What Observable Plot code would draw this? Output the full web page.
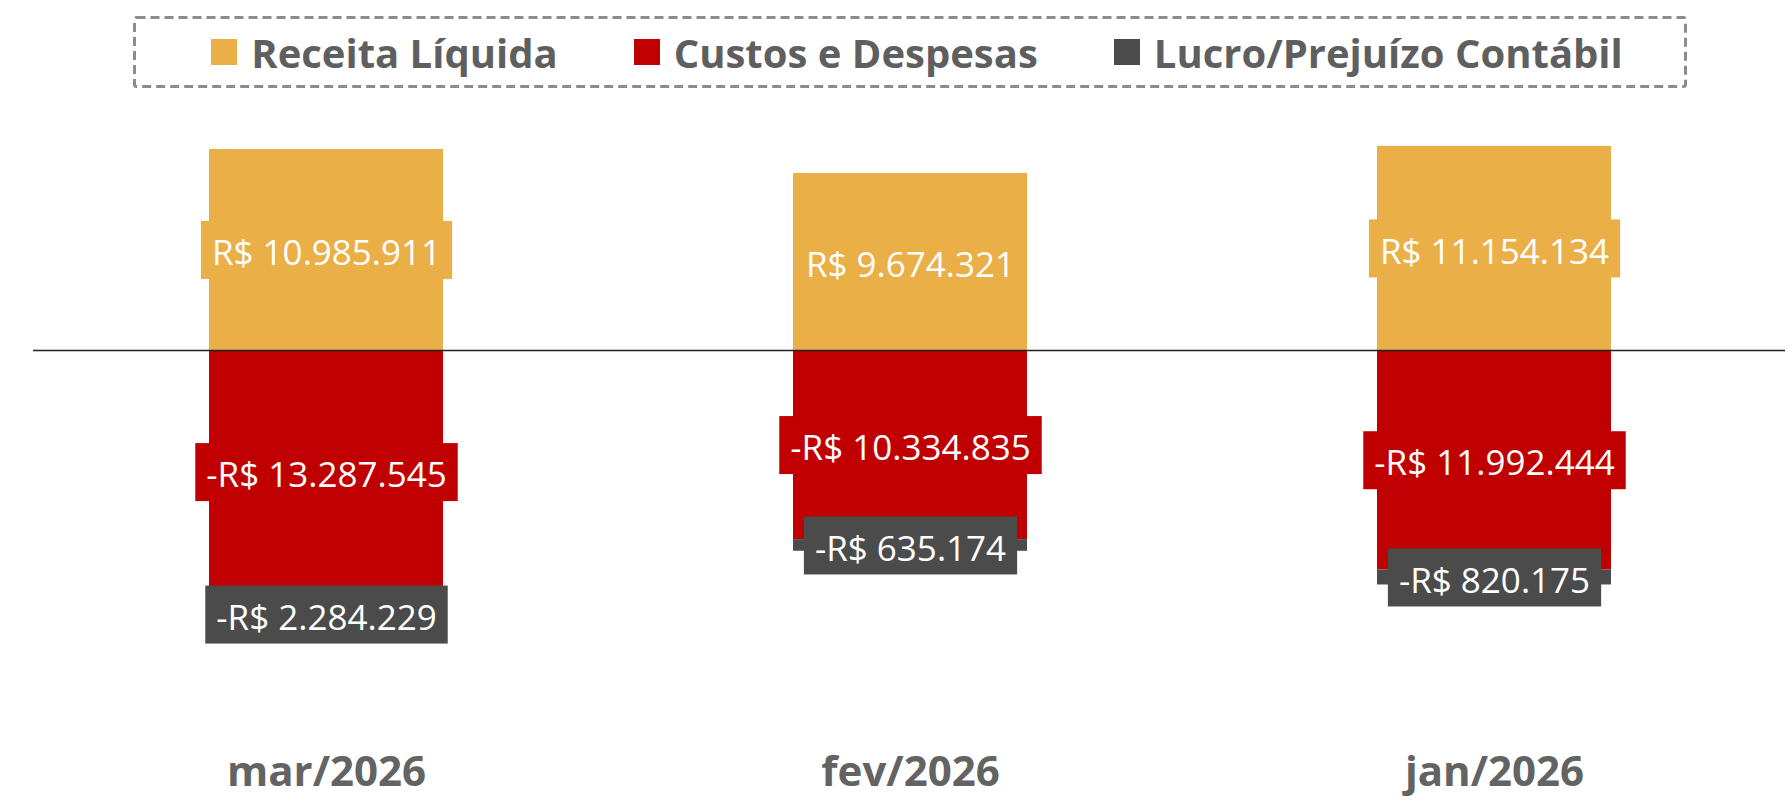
<!DOCTYPE html>
<html>
<head>
<meta charset="utf-8">
<script src="https://cdn.jsdelivr.net/npm/d3@7"></script>
<script src="https://cdn.jsdelivr.net/npm/@observablehq/plot@0.6"></script>
<style>
  body { margin: 0; background: #fff; font-family: "Open Sans", sans-serif; }
  #legend-wrap { position: relative; width: 1790px; height: 100px; }
  #legend {
    position: absolute; left: 133px; top: 16px; width: 1554px; height: 72px;
    box-sizing: border-box; padding-left: 14px;
    display: flex; align-items: center; justify-content: center; gap: 76px;
  }
  #legend svg.frame { position: absolute; left: 0; top: 0; }
  .item { position: relative; display: flex; align-items: center; gap: 14px; font-weight: 700; font-size: 40px; color: #5f5f5f; white-space: nowrap; }
  .sw { width: 26px; height: 26px; display: inline-block; }
</style>
</head>
<body>
<div id="legend-wrap"><div id="legend">
  <svg class="frame" width="1554" height="72"><rect x="1.5" y="1.5" width="1551" height="69" rx="2" fill="none" stroke="#8c8c8c" stroke-width="3" stroke-dasharray="9 5"></rect></svg>
</div></div>
<div id="chart"></div>
<script>
const months = ["mar/2026", "fev/2026", "jan/2026"];
const seriesNames = ["Receita Líquida", "Custos e Despesas", "Lucro/Prejuízo Contábil"];
const receita = [10985911, 9674321, 11154134];
const custos = [-13287545, -10334835, -11992444];
const lucro = [-2284229, -635174, -820175];
const colors = ["#EAAF47", "#C00000", "#4B4B4B"];

const seriesValues = [receita, custos, lucro];
const rows = [];
months.forEach((m, i) => {
  seriesNames.forEach((s, j) => rows.push({month: m, series: s, value: seriesValues[j][i]}));
});

const locale = d3.formatLocale({decimal: ",", thousands: ".", grouping: [3], currency: ["R$ ", ""], minus: "-"});
const fmt = locale.format("$,.0f");

// legend
const legend = document.getElementById("legend");
seriesNames.forEach((s, j) => {
  const it = document.createElement("div");
  it.className = "item";
  it.innerHTML = `<span class="sw" style="background:${colors[j]}"></span><span>${s}</span>`;
  legend.appendChild(it);
});

const zeroY = 250, pxPerM = 18.3;
const textShift = 4;
const chart = Plot.plot({
  width: 1790,
  height: 700,
  marginLeft: 33,
  marginRight: 5,
  marginTop: 0,
  marginBottom: 44,
  x: {domain: months, range: [208, 1611], paddingInner: 0.6, paddingOuter: 0, label: null},
  y: {domain: [-20e6, 12e6], range: [zeroY + 20 * pxPerM, zeroY - 12 * pxPerM], axis: null},
  color: {domain: seriesNames, range: colors},
  marks: [
    Plot.barY(rows, {x: "month", y: "value", fill: "series", z: "series"}),
    Plot.ruleY([0], {stroke: "#222", strokeWidth: 1.6}),
    Plot.text(rows, Plot.stackY({
      x: "month", y: "value", z: "series", fill: "series",
      text: d => fmt(d.value), fontSize: 35, fontFamily: "Open Sans", dy: textShift
    })),
    Plot.axisX({tickSize: 0, tickPadding: 0, fontSize: 42, fontWeight: "bold", fill: "#636363", label: null, fontFamily: "Open Sans"})
  ]
});
document.getElementById("chart").appendChild(chart);

// label background boxes
chart.querySelectorAll('g[aria-label="text"] text').forEach(t => {
  const b = t.getBBox();
  const fill = t.getAttribute("fill");
  const r = document.createElementNS("http://www.w3.org/2000/svg", "rect");
  r.setAttribute("x", b.x - 11);
  r.setAttribute("width", b.width + 22);
  r.setAttribute("y", -29 - textShift);
  r.setAttribute("height", 58);
  r.setAttribute("fill", fill);
  const tr = t.getAttribute("transform");
  if (tr) r.setAttribute("transform", tr);
  t.parentNode.insertBefore(r, t);
  t.setAttribute("fill", "#fff");
});
</script>
</body>
</html>
